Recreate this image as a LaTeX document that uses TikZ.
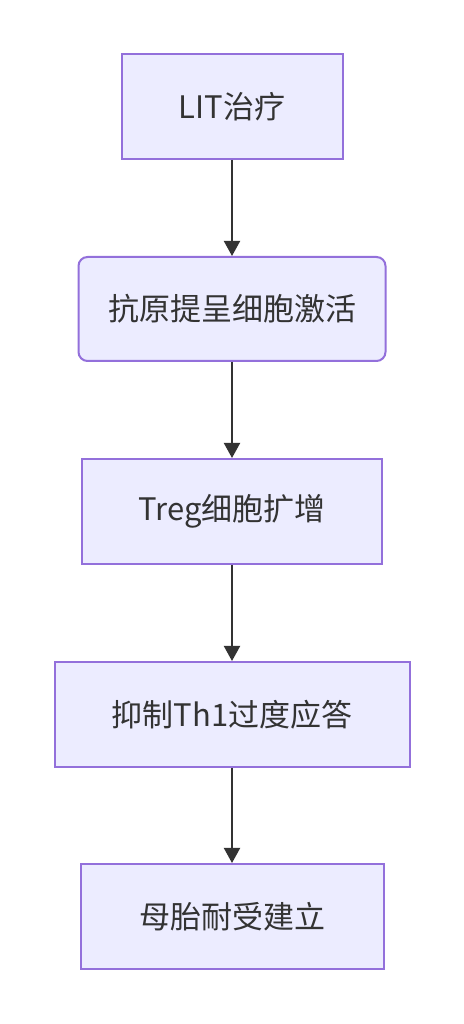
\documentclass[tikz,border=0pt]{standalone}
\usepackage{fontspec}
\setmainfont{Noto Sans CJK SC}
\usetikzlibrary{arrows.meta}
\definecolor{nodefill}{HTML}{ECECFF}
\definecolor{nodeline}{HTML}{9370DB}
\definecolor{edgecol}{HTML}{333333}
\definecolor{txtcol}{HTML}{333333}
\begin{document}
\begin{tikzpicture}[x=1pt,y=1pt,
  box/.style={draw=nodeline,fill=nodefill,line width=2pt,text=txtcol,
    font=\fontsize{31}{36}\selectfont,inner sep=0pt,anchor=center},
  rbox/.style={box,rounded corners=9pt},
  edge/.style={draw=edgecol,line width=2pt,-{Triangle[length=15pt,width=16pt]}}]
\useasboundingbox (0,0) rectangle (463,1024);
\fill[white] (0,0) rectangle (463,1024);
\node[box,minimum width=221pt,minimum height=105pt] (n1) at (232,917.5) {LIT治疗};
\node[rbox,minimum width=307pt,minimum height=104pt] (n2) at (232,715) {抗原提呈细胞激活};
\node[box,minimum width=300pt,minimum height=105pt] (n3) at (232,512.5) {Treg细胞扩增};
\node[box,minimum width=355pt,minimum height=105pt] (n4) at (232,309.5) {抑制Th1过度应答};
\node[box,minimum width=303pt,minimum height=105pt] (n5) at (232,107.5) {母胎耐受建立};
\draw[edge] (n1) -- (n2);
\draw[edge] (n2) -- (n3);
\draw[edge] (n3) -- (n4);
\draw[edge] (n4) -- (n5);
\end{tikzpicture}
\end{document}
